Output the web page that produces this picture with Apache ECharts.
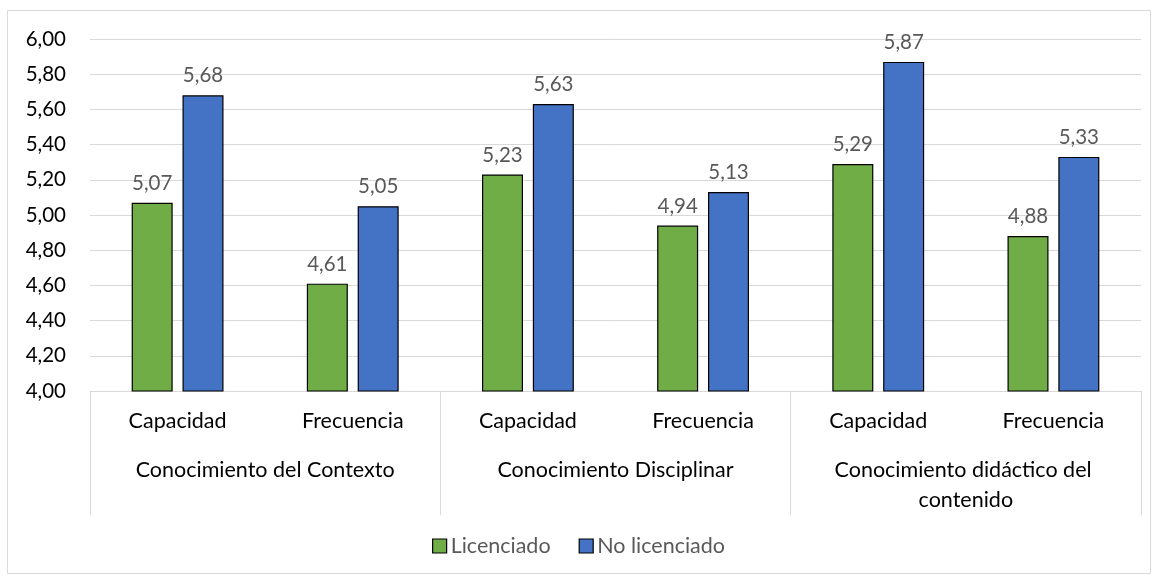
<!DOCTYPE html>
<html>
<head>
<meta charset="utf-8">
<script src="https://cdn.jsdelivr.net/npm/echarts@6/dist/echarts.min.js"></script>
<style>
  html, body { margin: 0; padding: 0; background: #fff; }
  #chart { width: 1157px; height: 579px; }
</style>
</head>
<body>
<div id="chart"></div>
<script>
// Subcategories (inner axis level) and groups (outer axis level)
const subCategories = ['Capacidad', 'Frecuencia', 'Capacidad', 'Frecuencia', 'Capacidad', 'Frecuencia'];
const groups = ['Conocimiento del Contexto', 'Conocimiento Disciplinar', 'Conocimiento didáctico del contenido'];
const seriesNames = ['Licenciado', 'No licenciado'];
const licenciado = [5.07, 4.61, 5.23, 4.94, 5.29, 4.88];
const noLicenciado = [5.68, 5.05, 5.63, 5.13, 5.87, 5.33];

const FONT = 'Lato, "Open Sans", sans-serif';
const FS = 20;
const FS_X = 21.5;
const fmt = v => Number(v).toFixed(2).replace('.', ',');

const chart = echarts.init(document.getElementById('chart'), null, { renderer: 'canvas' });

function barSeries(name, data, color) {
  return {
    name: name,
    type: 'bar',
    xAxisIndex: 0,
    data: data,
    barWidth: 41,
    barGap: '24%',
    itemStyle: { color: color, borderColor: '#000', borderWidth: 1.2 },
    label: {
      show: true,
      position: 'top',
      distance: 9,
      color: '#595959',
      fontSize: FS + 0.5,
      fontFamily: FONT,
      formatter: p => fmt(p.value)
    }
  };
}

chart.setOption({
  animation: false,
  textStyle: { fontFamily: FONT },
  graphic: [{
    type: 'rect',
    shape: { x: 7.5, y: 10.5, width: 1143, height: 563 },
    style: { fill: 'none', stroke: '#d9d9d9', lineWidth: 1 },
    silent: true
  }],
  grid: { left: 90, right: 16, top: 39, bottom: 188 },
  legend: {
    bottom: 17,
    left: 'center',
    icon: 'rect',
    itemWidth: 14,
    itemHeight: 14,
    itemGap: 28,
    textStyle: { color: '#595959', fontSize: FS_X, fontFamily: FONT, padding: [0, 0, 0, -1] },
    data: seriesNames.map(n => ({
      name: n,
      itemStyle: { borderColor: '#000', borderWidth: 1.2 }
    }))
  },
  yAxis: {
    type: 'value',
    min: 4,
    max: 6,
    interval: 0.2,
    axisLine: { show: false },
    axisTick: { show: false },
    splitLine: { lineStyle: { color: '#d9d9d9', width: 1 } },
    axisLabel: {
      color: '#000',
      fontSize: FS + 0.5,
      fontFamily: FONT,
      margin: 24,
      formatter: v => fmt(v)
    }
  },
  xAxis: [
    {
      type: 'category',
      data: subCategories,
      axisLine: { lineStyle: { color: '#d9d9d9', width: 1 } },
      axisTick: { show: false },
      axisLabel: { color: '#000', fontSize: FS_X, fontFamily: FONT, margin: 19, interval: 0 }
    },
    {
      type: 'category',
      position: 'bottom',
      data: groups,
      axisLine: { show: false },
      axisTick: {
        show: true,
        length: 124,
        interval: 0,
        lineStyle: { color: '#d9d9d9', width: 1 }
      },
      axisLabel: {
        color: '#000',
        fontSize: FS_X,
        fontFamily: FONT,
        margin: 64,
        interval: 0,
        width: 320,
        overflow: 'break',
        lineHeight: 30,
        align: 'center'
      }
    }
  ],
  series: [
    barSeries(seriesNames[0], licenciado, '#70ad47'),
    barSeries(seriesNames[1], noLicenciado, '#4472c4')
  ]
});
</script>
</body>
</html>
